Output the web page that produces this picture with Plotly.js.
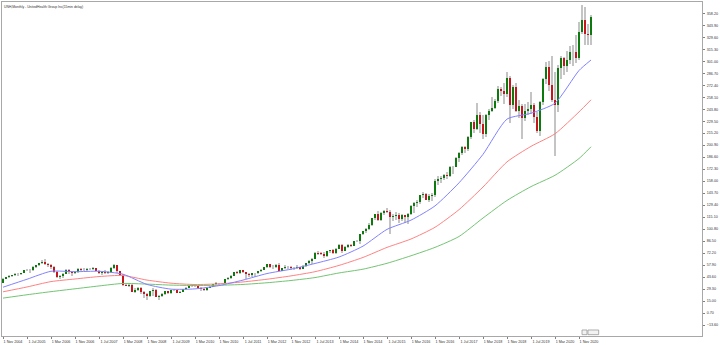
<!DOCTYPE html>
<html>
<head>
<meta charset="utf-8">
<script src="https://cdn.plot.ly/plotly-3.0.1.min.js"></script>
<style>
  html, body { margin: 0; padding: 0; background: #ffffff; }
  #chart { width: 720px; height: 345px; }
</style>
</head>
<body>
<div id="chart"></div>
<script>
// UNH monthly bars, Nov 2004 .. Mar 2021 (one entry per month)
const open = [
  36.3, 41.4, 44.0, 44.5, 45.6, 47.7, 47.3, 48.6, 52.1, 52.3, 51.5, 56.2, 57.9, 59.9,
  62.1, 59.4, 58.2, 55.9, 49.7, 44.0, 44.8, 47.8, 51.9, 49.2, 48.8, 49.1,
  53.7, 52.3, 52.2, 53.0, 53.1, 54.8, 51.1, 48.4, 50.0, 48.4, 49.2, 55.0,
  58.2, 50.8, 46.5, 34.4, 32.6, 34.2, 26.3, 28.1, 30.4, 25.4, 23.7, 21.0,
  26.6, 28.3, 19.7, 20.9, 23.5, 26.6, 25.0, 28.1, 28.0, 25.0, 25.95, 28.9,
  30.5, 33.0, 33.7, 32.7, 30.3, 29.1, 28.4, 30.5, 31.7, 35.1, 36.0, 36.4,
  36.1, 41.05, 42.6, 45.2, 49.2, 48.9, 51.6, 49.6, 47.5, 46.1, 48.0, 48.8,
  50.7, 51.8, 55.7, 58.9, 56.2, 55.8, 58.5, 51.1, 54.3, 55.4, 56.0, 54.4,
  54.2, 55.2, 53.5, 57.2, 59.9, 62.6, 65.5, 72.9, 71.7, 71.6, 68.3, 74.5,
  75.3, 72.3, 77.3, 82.0, 75.0, 79.6, 81.8, 81.0, 86.7, 86.25, 95.0, 98.6,
  101.1, 106.3, 113.7, 118.3, 111.9, 120.2, 122.0, 121.4, 115.7, 116.0, 117.8, 112.7,
  117.6, 115.2, 119.1, 128.9, 131.7, 133.7, 141.2, 143.2, 136.1, 140.0, 141.3, 158.3,
  160.0, 162.1, 165.4, 164.0, 174.9, 175.2, 185.4, 191.8, 198.9, 195.9, 210.2, 228.2,
  220.5, 236.8, 226.2, 214.0, 236.4, 241.5, 245.3, 253.2, 268.5, 266.0, 261.4, 281.4,
  249.1, 270.2, 242.2, 247.3, 233.1, 241.8, 244.0, 249.0, 234.0, 217.3, 252.7, 279.9,
  294.0, 272.4, 255.0, 249.4, 292.5, 304.9, 294.9, 302.8, 312.6, 311.8, 305.1, 336.3,
  350.7, 333.6, 332.2
];
const high = [
  42.0, 44.2, 45.5, 46.5, 48.5, 48.2, 49.0, 52.5, 53.5, 53.0, 56.5, 58.5, 60.5, 63.5,
  64.6, 60.0, 59.5, 56.5, 50.5, 46.0, 49.0, 53.0, 53.5, 51.0, 50.5, 54.0,
  54.5, 54.0, 54.5, 54.0, 55.5, 55.0, 52.0, 50.5, 51.5, 50.5, 56.0, 59.5,
  58.5, 51.0, 47.0, 36.0, 36.5, 35.0, 30.0, 32.0, 31.5, 26.5, 24.5, 27.5,
  30.0, 29.0, 22.5, 25.0, 27.0, 27.5, 28.5, 29.5, 28.5, 27.0, 29.5, 31.5,
  34.0, 35.0, 34.5, 33.5, 31.5, 31.0, 31.0, 33.0, 35.5, 37.5, 37.0, 37.0,
  41.5, 43.5, 45.5, 49.5, 51.0, 52.0, 52.5, 50.0, 48.5, 49.0, 49.0, 51.0,
  53.0, 56.0, 59.5, 59.5, 57.5, 59.5, 60.5, 55.0, 57.5, 56.5, 57.0, 55.5,
  57.5, 56.0, 57.5, 60.5, 64.0, 66.0, 73.5, 74.5, 74.0, 73.0, 75.0, 76.0,
  76.5, 78.0, 83.5, 82.5, 80.5, 82.5, 83.5, 87.0, 88.0, 95.5, 99.0, 102.5,
  108.0, 114.5, 119.0, 123.0, 121.0, 123.5, 126.0, 124.0, 119.0, 121.5, 120.0, 119.0,
  118.0, 120.0, 129.5, 133.0, 135.0, 142.0, 144.5, 144.0, 142.5, 143.5, 160.0, 164.0,
  164.0, 167.0, 169.5, 176.0, 176.5, 187.0, 192.5, 200.0, 200.0, 212.0, 229.0, 230.5,
  250.8, 240.0, 237.0, 238.5, 244.0, 258.5, 256.5, 271.0, 270.5, 275.0, 287.9, 284.0,
  272.5, 275.5, 255.0, 250.0, 250.5, 252.5, 264.0, 251.5, 241.0, 254.0, 281.0, 300.0,
  301.0, 306.7, 288.0, 296.0, 307.5, 306.0, 313.0, 319.5, 321.0, 332.0, 348.0, 367.9,
  366.0, 346.0, 356.5
];
const low = [
  36.0, 41.0, 43.0, 43.8, 45.0, 45.0, 46.5, 48.3, 50.5, 49.0, 50.5, 54.0, 56.5, 59.5,
  58.0, 56.0, 53.5, 48.5, 42.5, 41.5, 42.5, 47.0, 47.5, 45.0, 47.0, 48.5,
  50.8, 51.0, 50.5, 51.5, 52.5, 50.5, 47.5, 45.8, 47.5, 47.0, 48.5, 53.5,
  48.5, 45.0, 32.5, 32.5, 32.0, 26.0, 25.0, 27.5, 23.0, 18.7, 16.2, 19.5,
  21.5, 19.5, 16.2, 19.5, 22.0, 24.0, 24.0, 26.5, 24.5, 24.5, 25.5, 28.5,
  30.2, 31.5, 32.0, 29.5, 27.5, 27.5, 27.0, 30.0, 31.5, 34.5, 34.5, 35.5,
  36.0, 40.5, 41.0, 44.5, 47.5, 47.0, 48.0, 41.5, 43.5, 43.5, 43.5, 47.5,
  49.5, 51.5, 55.0, 54.0, 53.5, 54.5, 50.5, 50.5, 53.5, 53.5, 51.5, 52.0,
  53.5, 51.5, 53.5, 56.0, 59.5, 59.5, 65.0, 70.0, 70.0, 66.5, 67.5, 72.5,
  71.5, 71.0, 76.5, 72.5, 74.5, 78.5, 80.0, 80.5, 85.0, 82.5, 94.0, 96.0,
  99.5, 105.0, 112.0, 110.5, 111.0, 117.5, 119.5, 95.0, 110.0, 112.0, 108.0, 110.0,
  107.5, 107.0, 118.0, 120.5, 127.0, 130.5, 138.5, 135.5, 133.5, 134.0, 139.0, 153.5,
  155.5, 159.5, 161.0, 162.5, 167.0, 174.5, 181.0, 189.0, 192.0, 194.5, 208.5, 216.0,
  219.0, 215.0, 208.5, 210.5, 231.0, 240.0, 244.0, 251.0, 260.0, 250.5, 258.0, 227.0,
  244.0, 240.5, 233.0, 208.1, 230.0, 236.5, 238.0, 227.0, 215.5, 212.0, 249.0, 273.5,
  265.5, 253.0, 187.7, 241.0, 280.0, 285.0, 288.0, 298.0, 295.5, 298.5, 303.0, 334.0,
  320.3, 320.0, 320.5
];
const close = [
  41.4, 44.0, 44.45, 45.6, 47.7, 47.25, 48.6, 52.1, 52.3, 51.5, 56.2, 57.9, 59.9, 62.1,
  59.4, 58.2, 55.9, 49.7, 44.0, 44.8, 47.8, 51.9, 49.2, 48.8, 49.1, 53.7,
  52.3, 52.2, 53.0, 53.1, 54.8, 51.1, 48.4, 50.0, 48.4, 49.2, 55.0, 58.2,
  50.8, 46.5, 34.4, 32.6, 34.2, 26.3, 28.1, 30.4, 25.4, 23.7, 21.0, 26.6,
  28.3, 19.7, 20.9, 23.5, 26.6, 25.0, 28.1, 28.0, 25.0, 25.95, 28.9, 30.5,
  33.0, 33.7, 32.7, 30.3, 29.1, 28.4, 30.5, 31.7, 35.1, 36.0, 36.4, 36.1,
  41.05, 42.6, 45.2, 49.2, 48.9, 51.6, 49.6, 47.5, 46.1, 48.0, 48.8, 50.7,
  51.8, 55.7, 58.9, 56.2, 55.8, 58.5, 51.1, 54.3, 55.4, 56.0, 54.4, 54.2,
  55.2, 53.5, 57.2, 59.9, 62.6, 65.5, 72.9, 71.7, 71.6, 68.3, 74.5, 75.3,
  72.3, 77.3, 82.0, 75.0, 79.6, 81.8, 81.0, 86.7, 86.25, 95.0, 98.6, 101.1,
  106.3, 113.7, 118.3, 111.9, 120.2, 122.0, 121.4, 115.7, 116.0, 117.8, 112.7, 117.6,
  115.2, 119.1, 128.9, 131.7, 133.7, 141.2, 143.2, 136.1, 140.0, 141.3, 158.3, 160.0,
  162.1, 165.4, 164.0, 174.9, 175.2, 185.4, 191.8, 198.9, 195.9, 210.2, 228.2, 220.5,
  236.8, 226.2, 214.0, 236.4, 241.5, 245.3, 253.2, 268.5, 266.0, 261.4, 281.4, 249.1,
  270.2, 242.2, 247.3, 233.1, 241.8, 244.0, 249.0, 234.0, 217.3, 252.7, 279.9, 294.0,
  272.4, 255.0, 249.4, 292.5, 304.9, 294.9, 302.8, 312.6, 311.8, 305.1, 336.3, 350.7,
  333.6, 332.2, 353.5
];

// moving averages, sampled every 8 bars (bar index -> price)
const maBars = [0, 8, 16, 24, 32, 40, 48, 56, 64, 72, 80, 88, 96, 104, 112, 120, 128, 136, 144, 152, 160, 168, 176, 184, 192, 196];
const maFast = [31.5, 41, 50.5, 50, 50.5, 47, 34.8, 29.2, 29.5, 33.4, 40, 47.8, 53, 59.8, 67.5, 80.5, 100.5, 111.5, 128.5, 156, 190, 232, 239, 251, 290, 302.5];
const maMid  = [26, 31.8, 38.2, 41.3, 44.2, 45.5, 40, 36.3, 34.7, 35.5, 37.8, 41, 45, 50, 57.5, 67, 79, 89, 103, 124, 151, 181, 199.5, 214.5, 240.6, 255];
const maSlow = [18.5, 22.5, 26.2, 29.6, 33, 36, 35.2, 34, 33.5, 33.8, 34.8, 36.8, 39.5, 43, 48.5, 53, 60, 69, 79, 92, 114, 135, 151.5, 165, 185, 199];

// time scale labels (every 8th bar) and price scale levels
const timeTickBars = [0, 8, 16, 24, 32, 40, 48, 56, 64, 72, 80, 88, 96, 104, 112, 120, 128, 136, 144, 152, 160, 168, 176, 184, 192];
const timeTickText = [
  "1 Nov 2004", "1 Jul 2005", "1 Mar 2006", "1 Nov 2006", "1 Jul 2007", "1 Mar 2008", "1 Nov 2008",
  "1 Jul 2009", "1 Mar 2010", "1 Nov 2010", "1 Jul 2011", "1 Mar 2012", "1 Nov 2012", "1 Jul 2013",
  "1 Mar 2014", "1 Nov 2014", "1 Jul 2015", "1 Mar 2016", "1 Nov 2016", "1 Jul 2017", "1 Mar 2018",
  "1 Nov 2018", "1 Jul 2019", "1 Mar 2020", "1 Nov 2020"
];
const priceLevels = [-13.6, 0.7, 15.0, 29.3, 43.6, 57.9, 72.2, 86.5, 100.8, 115.1, 129.4, 143.7, 158.0,
  172.3, 186.6, 200.9, 215.2, 229.5, 243.8, 258.1, 272.4, 286.7, 301.0, 315.3, 329.6, 343.9, 358.2];

const titleText = "UNH,Monthly - UnitedHealth Group Inc(15min delay)";

const bars = close.map((_, i) => i);
const bodyBase = close.map((c, i) => Math.min(c, open[i]));
const bodySize = close.map((c, i) => Math.max(Math.abs(c - open[i]), 0.4));
const bodyColor = close.map((c, i) => (c >= open[i] ? "#0c7a0c" : "#c8141c"));

const traces = [
  {
    type: "bar", x: bars, base: low, y: high.map((h, i) => h - low[i]),
    width: 0.62, marker: { color: "#c4c4c4", line: { width: 0 } },
    hoverinfo: "skip", showlegend: false
  },
  {
    type: "bar", x: bars, base: bodyBase, y: bodySize,
    width: 0.72, marker: { color: bodyColor, line: { width: 0 } },
    hoverinfo: "skip", showlegend: false
  },
  {
    type: "scatter", mode: "lines", x: maBars, y: maSlow,
    line: { color: "#74c474", width: 1, shape: "spline", smoothing: 0.6 }, showlegend: false
  },
  {
    type: "scatter", mode: "lines", x: maBars, y: maMid,
    line: { color: "#ff8282", width: 1, shape: "spline", smoothing: 0.6 }, showlegend: false
  },
  {
    type: "scatter", mode: "lines", x: maBars, y: maFast,
    line: { color: "#8282ff", width: 1, shape: "spline", smoothing: 0.6 }, showlegend: false
  }
];

// small scale-control boxes at the lower edge of the price pane
const controlShapes = [
  { type: "rect", xref: "paper", yref: "paper", x0: 0.8286, x1: 0.8357, y0: 0.004, y1: 0.018,
    line: { color: "#9a9a9a", width: 0.8 }, fillcolor: "#f2f2f2" },
  { type: "rect", xref: "paper", yref: "paper", x0: 0.8371, x1: 0.8524, y0: 0.004, y1: 0.018,
    line: { color: "#9a9a9a", width: 0.8 }, fillcolor: "#f2f2f2" }
];

const layout = {
  width: 720, height: 345,
  margin: { l: 2, r: 18, t: 2, b: 9, pad: 0 },
  paper_bgcolor: "#ffffff", plot_bgcolor: "#ffffff",
  barmode: "overlay", bargap: 0,
  font: { family: "Liberation Sans, Arial, sans-serif", color: "#333333" },
  title: {
    text: titleText, x: 4 / 720, xanchor: "left", xref: "container",
    y: 1 - 7 / 345, yanchor: "middle", yref: "container",
    font: { size: 3.4, color: "#333333" }
  },
  shapes: controlShapes,
  xaxis: {
    range: [-0.333, 233], fixedrange: true,
    showgrid: false, zeroline: false,
    showline: true, mirror: true, linecolor: "#a8a8a8", linewidth: 1,
    ticks: "outside", ticklen: 2, tickwidth: 1, tickcolor: "#808080",
    tickvals: timeTickBars, ticktext: timeTickText, tickangle: 0,
    tickfont: { size: 3.7, color: "#333333" }, ticklabelshift: 10, ticklabelstandoff: 0
  },
  yaxis: {
    side: "right", range: [-26.7, 371.7], fixedrange: true,
    showgrid: false, zeroline: false,
    showline: true, mirror: true, linecolor: "#a8a8a8", linewidth: 1,
    ticks: "outside", ticklen: 2, tickwidth: 1, tickcolor: "#808080",
    tickvals: priceLevels, tickformat: ".2f",
    tickfont: { size: 3.7, color: "#333333" }, ticklabelstandoff: 1
  }
};

Plotly.newPlot("chart", traces, layout, { staticPlot: true, displayModeBar: false });
</script>
</body>
</html>
